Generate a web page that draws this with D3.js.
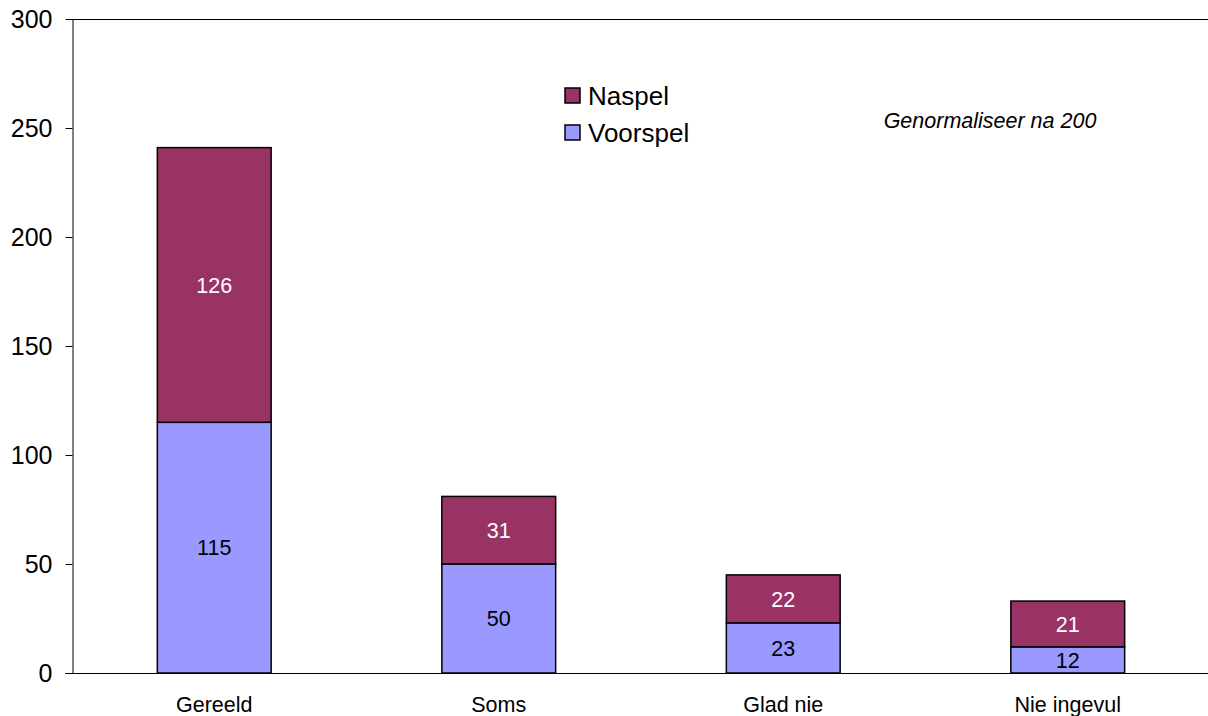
<!DOCTYPE html>
<html>
<head>
<meta charset="utf-8">
<script src="https://cdn.jsdelivr.net/npm/d3@7"></script>
<style>
  body { margin: 0; background: #fff; }
  svg { display: block; font-family: "Liberation Sans", Arial, sans-serif; }
</style>
</head>
<body>
<svg width="1208" height="716"></svg>
<script>
// data
var categories = ["Gereeld", "Soms", "Glad nie", "Nie ingevul"];
var voorspel = [115, 50, 23, 12];
var naspel = [126, 31, 22, 21];
var yTicks = [0, 50, 100, 150, 200, 250, 300];
var seriesNames = ["Naspel", "Voorspel"];
var seriesColors = { "Voorspel": "#9999ff", "Naspel": "#993366" };
var labelColors = { "Voorspel": "#000", "Naspel": "#fff" };

var svg = d3.select("svg"),
    plotLeft = 72, plotTop = 19, plotBottom = 673, plotRight = 1210;

var x = d3.scaleBand()
    .domain(categories)
    .range([plotLeft, plotRight])
    .paddingInner(0.6)
    .paddingOuter(0.3);

var y = d3.scaleLinear()
    .domain([0, 300])
    .range([plotBottom, plotTop]);

var rows = categories.map(function (c, i) {
    return { cat: c, Voorspel: voorspel[i], Naspel: naspel[i] };
});

var layers = d3.stack().keys(["Voorspel", "Naspel"])(rows);

// top border of the plot area
svg.append("line")
    .attr("x1", plotLeft).attr("x2", 1208)
    .attr("y1", plotTop + 0.5).attr("y2", plotTop + 0.5)
    .attr("stroke", "#000");

// y axis
var yAxis = svg.append("g")
    .attr("transform", "translate(" + (plotLeft + 0.5) + ",0)")
    .call(d3.axisLeft(y).tickValues(yTicks).tickSize(7).tickPadding(13).tickSizeOuter(0));
yAxis.select(".domain").attr("stroke", "#000");
yAxis.selectAll(".tick line").attr("stroke", "#000");
yAxis.selectAll("text")
    .attr("font-size", 25)
    .attr("font-family", "Liberation Sans, Arial, sans-serif")
    .attr("fill", "#000");

// bars
var g = svg.append("g");
layers.forEach(function (layer) {
    var key = layer.key;
    g.selectAll(".bar-" + key)
        .data(layer)
        .enter().append("rect")
        .attr("class", "bar-" + key)
        .attr("x", function (d) { return x(d.data.cat); })
        .attr("y", function (d) { return y(d[1]); })
        .attr("width", x.bandwidth())
        .attr("height", function (d) { return y(d[0]) - y(d[1]); })
        .attr("fill", seriesColors[key])
        .attr("stroke", "#000")
        .attr("stroke-width", 1.5);

    g.selectAll(".lab-" + key)
        .data(layer)
        .enter().append("text")
        .attr("class", "lab-" + key)
        .attr("x", function (d) { return x(d.data.cat) + x.bandwidth() / 2; })
        .attr("y", function (d) { return (y(d[0]) + y(d[1])) / 2; })
        .attr("dy", "0.36em")
        .attr("text-anchor", "middle")
        .attr("font-size", 21.5)
        .attr("fill", labelColors[key])
        .text(function (d) { return d.data[key]; });
});

// x axis baseline
svg.append("line")
    .attr("x1", plotLeft - 7).attr("x2", 1208)
    .attr("y1", plotBottom + 0.5).attr("y2", plotBottom + 0.5)
    .attr("stroke", "#000");

svg.append("g").selectAll("text")
    .data(categories)
    .enter().append("text")
    .attr("x", function (d) { return x(d) + x.bandwidth() / 2; })
    .attr("y", 712)
    .attr("text-anchor", "middle")
    .attr("font-size", 21.5)
    .text(function (d) { return d; });

// legend
var legend = svg.append("g").selectAll("g")
    .data(seriesNames)
    .enter().append("g")
    .attr("transform", function (d, i) { return "translate(565," + (88 + i * 37) + ")"; });
legend.append("rect")
    .attr("width", 15).attr("height", 15)
    .attr("fill", function (d) { return seriesColors[d]; })
    .attr("stroke", "#000")
    .attr("stroke-width", 1.5);
legend.append("text")
    .attr("x", 23).attr("y", 8)
    .attr("dy", "0.36em")
    .attr("font-size", 26)
    .text(function (d) { return d; });

// note
svg.append("text")
    .attr("x", 990).attr("y", 128)
    .attr("text-anchor", "middle")
    .attr("font-size", 21.5)
    .attr("font-style", "italic")
    .text("Genormaliseer na 200");
</script>
</body>
</html>
